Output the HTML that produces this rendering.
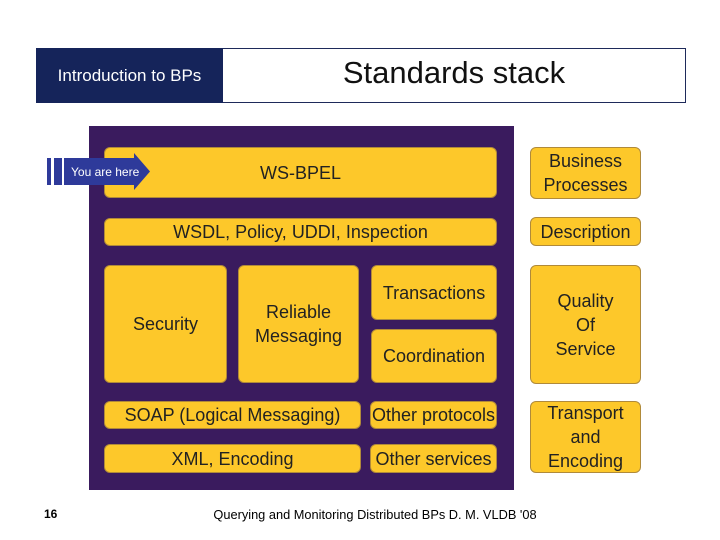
<!DOCTYPE html>
<html><head><style>
body{margin:0;width:720px;height:540px;background:#fff;position:relative;font-family:"Liberation Sans",sans-serif;overflow:hidden}
.a{position:absolute;box-sizing:border-box}
.y{background:#fdc82a;border:1px solid #b08a3a;border-radius:6px;display:flex;align-items:center;justify-content:center;text-align:center;color:#222;font-size:18px;line-height:24px}
</style></head><body>
<div class="a" style="left:36px;top:48px;width:650px;height:55px;border:1px solid #1e2a5a"></div>
<div class="a" style="left:36px;top:48px;width:187px;height:55px;background:#15245a;color:#fff;font-size:17px;display:flex;align-items:center;justify-content:center">Introduction to BPs</div>
<div class="a" style="left:223px;top:55px;width:462px;text-align:center;font-size:31px;color:#111">Standards stack</div>
<div class="a" style="left:89px;top:126px;width:425px;height:364px;background:#3a1b5e"></div>
<div class="a y" style="left:104px;top:147px;width:393px;height:51px">WS-BPEL</div>
<div class="a y" style="left:104px;top:218px;width:393px;height:28px">WSDL, Policy, UDDI, Inspection</div>
<div class="a y" style="left:104px;top:265px;width:123px;height:118px">Security</div>
<div class="a y" style="left:238px;top:265px;width:121px;height:118px">Reliable<br>Messaging</div>
<div class="a y" style="left:371px;top:265px;width:126px;height:55px">Transactions</div>
<div class="a y" style="left:371px;top:329px;width:126px;height:54px">Coordination</div>
<div class="a y" style="left:104px;top:401px;width:257px;height:28px">SOAP (Logical Messaging)</div>
<div class="a y" style="left:370px;top:401px;width:127px;height:28px">Other protocols</div>
<div class="a y" style="left:104px;top:444px;width:257px;height:29px">XML, Encoding</div>
<div class="a y" style="left:370px;top:444px;width:127px;height:29px">Other services</div>
<div class="a y" style="left:530px;top:147px;width:111px;height:52px">Business<br>Processes</div>
<div class="a y" style="left:530px;top:217px;width:111px;height:29px">Description</div>
<div class="a y" style="left:530px;top:265px;width:111px;height:119px">Quality<br>Of<br>Service</div>
<div class="a y" style="left:530px;top:401px;width:111px;height:72px">Transport<br>and<br>Encoding</div>
<svg class="a" style="left:0;top:0" width="720" height="540">
<rect x="47" y="158" width="4" height="27" fill="#2e3a9a"/>
<rect x="54" y="158" width="8" height="27" fill="#2e3a9a"/>
<polygon points="64,158 134,158 134,153 150,171.5 134,190 134,185 64,185" fill="#2e3a9a"/>
<text x="71" y="176" fill="#fff" font-size="12" font-family="Liberation Sans">You are here</text>
</svg>
<div class="a" style="left:44px;top:507px;font-size:12px;font-weight:bold">16</div>
<div class="a" style="left:175px;top:507px;width:400px;text-align:center;font-size:12.8px">Querying and Monitoring Distributed BPs D. M. VLDB '08</div>
</body></html>
